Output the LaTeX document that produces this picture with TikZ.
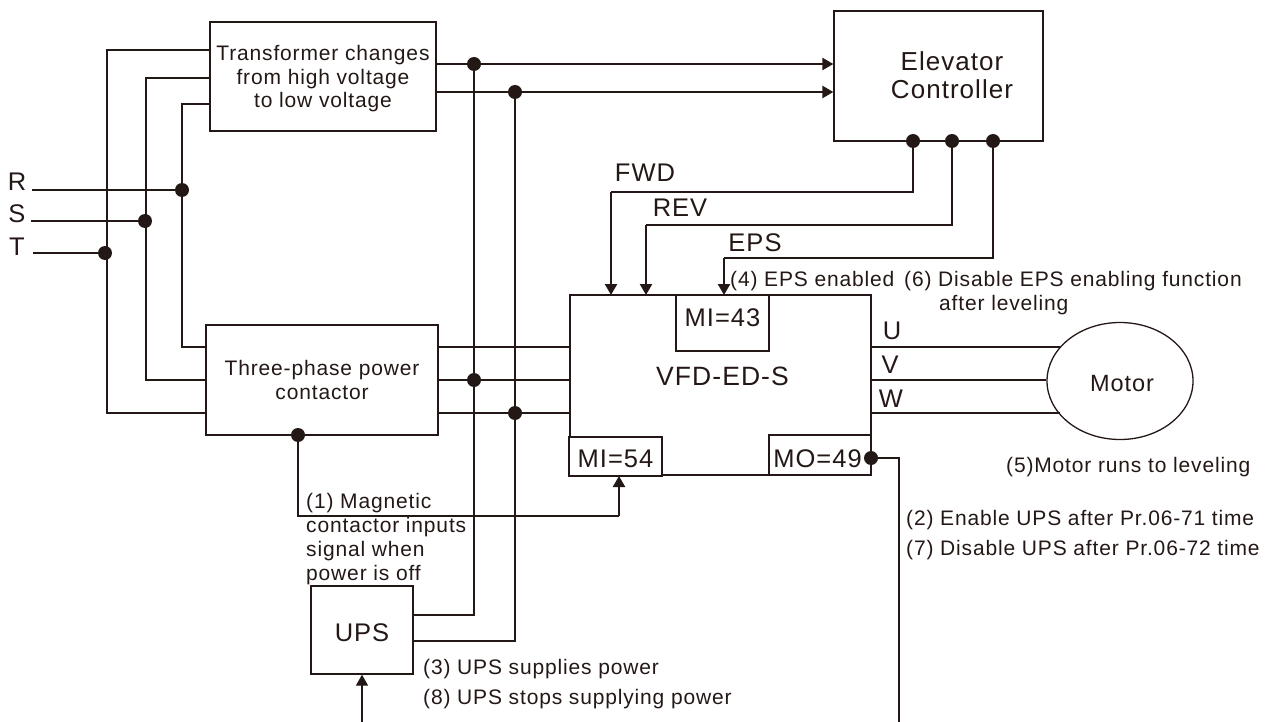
\documentclass[tikz,border=0pt]{standalone}
\usepackage{fontspec}
\setmainfont{Liberation Sans}
\newfontface\lblf{Liberation Sans}[LetterSpace=4]
\definecolor{ink}{HTML}{231815}
\usetikzlibrary{arrows.meta,shapes.geometric}
\tikzset{
  wire/.style={draw=ink,line width=1.3pt},
  thick wire/.style={draw=ink,line width=2.4pt},
  arrowed/.style={-{Triangle[length=11pt,width=12pt]}},
  fbox/.style={draw=ink,line width=1.3pt,rectangle,inner sep=0pt,fill=white,text=ink,align=center},
  jdot/.style={circle,fill=ink,inner sep=0pt,minimum size=14pt},
  big/.style={font=\lblf\fontsize{26}{28}\selectfont,text=ink,inner sep=0pt,align=center},
  mid/.style={font=\lblf\fontsize{25.5}{30}\selectfont,text=ink,inner sep=0pt,align=center},
  small/.style={font=\lblf\fontsize{21}{24}\selectfont,text=ink,inner sep=0pt,align=left},
  smallc/.style={font=\lblf\fontsize{21}{23.5}\selectfont,text=ink,inner sep=0pt,align=center},
  smallw/.style={font=\lblf\fontsize{21}{29.5}\selectfont,text=ink,inner sep=0pt,align=left},
}
\begin{document}
\begin{tikzpicture}[x=1pt,y=-1pt]
\useasboundingbox (0,0) rectangle (1274,722);

% boxes
\node[fbox,smallc,draw=ink,minimum width=226pt,minimum height=109pt] (xf) at (323,76.5) {\rule{0pt}{20pt}Transformer changes\\from high voltage\\to low voltage};
\node[fbox,smallc,draw=ink,minimum width=232pt,minimum height=110pt] (ct) at (322,380) {Three-phase power\\contactor};
\node[fbox,big,draw=ink,minimum width=209pt,minimum height=130pt] (ec) at (938.5,76) {\hspace*{27pt}Elevator\\\hspace*{27pt}Controller\rule[-2pt]{0pt}{0pt}};
\node[fbox,mid,draw=ink,minimum width=301pt,minimum height=180pt] (vfd) at (720.5,385) {\raisebox{18pt}{\fontsize{26.5}{30}\selectfont\hspace*{4pt}VFD-ED-S}};
\node[fbox,mid,draw=ink,minimum width=93pt,minimum height=56pt] (mi43) at (722.5,323) {\raisebox{10pt}{MI=43}};
\node[fbox,mid,draw=ink,minimum width=93pt,minimum height=39pt] (mi54) at (615.5,456.5) {\rule{0pt}{22.5pt}MI=54};
\node[fbox,mid,draw=ink,minimum width=102pt,minimum height=40pt,text width=102pt] (mo49) at (820,455) {\hspace*{-5pt}\rule{0pt}{24.5pt}MO=49};
\node[fbox,mid,draw=ink,minimum width=102pt,minimum height=88pt] (ups) at (362,630) {\rule{0pt}{22.5pt}UPS};
\node[draw=ink,line width=1.3pt,ellipse,inner sep=0pt,minimum width=146pt,minimum height=117pt,text=ink,font=\lblf\fontsize{23.5}{28}\selectfont] (motor) at (1120,381) {\hspace*{4pt}\rule{0pt}{21pt}Motor};

% junction dots
\node[jdot] (dR) at (182,190) {};
\node[jdot] (dS) at (145,221) {};
\node[jdot] (dT) at (105,253) {};
\node[jdot] (d1) at (474,64) {};
\node[jdot] (d2) at (515,92) {};
\node[jdot] (d3) at (474,380) {};
\node[jdot] (d4) at (515,413) {};
\node[jdot] (dc) at (298,435) {};
\node[jdot] (dF) at (913,141) {};
\node[jdot] (dV) at (952,141) {};
\node[jdot] (dE) at (993,141) {};
\node[jdot] (dM) at (871,458) {};

% labels
\node[mid] (lR) at (17,182) {R};
\node[mid] (lS) at (17,214) {S};
\node[mid] (lT) at (17,247) {T};
\node[mid] (lFWD) at (645,173) {FWD};
\node[mid] (lREV) at (680,208) {REV};
\node[mid] (lEPS) at (755,243) {EPS};
\node[mid] (lU) at (892,331) {U};
\node[mid] (lV) at (890,365) {V};
\node[mid] (lW) at (891,399) {W};
\node[small,anchor=west] (n4) at (730,281) {(4) EPS enabled};
\node[small,anchor=west] (n6) at (904,281) {(6) Disable EPS enabling function};
\node[small,anchor=west] (n6b) at (939,305) {after leveling};
\node[small,anchor=west] (n5) at (1006,467) {(5)Motor runs to leveling};
\node[smallw,anchor=west] (n27) at (906,535) {(2) Enable UPS after Pr.06-71 time\\(7) Disable UPS after Pr.06-72 time};
\node[small,anchor=north west] (n1) at (306,493) {(1) Magnetic\\contactor inputs\\signal when\\power is off};
\node[smallw,anchor=west] (n38) at (423,684) {(3) UPS supplies power\\(8) UPS stops supplying power};

% free end coordinates
\coordinate (Rs) at (32,190);
\coordinate (Ss) at (31,221);
\coordinate (Ts) at (33,253);
\coordinate (upsIn) at (362,722);
\coordinate (moEnd) at (899,722);
\coordinate (mU) at (1060,347);
\coordinate (mW) at (1060,413);

% three-phase left wires
\begin{scope}[wire]
\draw (xf.west |- 0,50) -| (107,413) -- (ct.west |- 0,413);
\draw (xf.west |- 0,78) -| (146,380) -- (ct.west |- 0,380);
\draw (xf.west |- 0,104) -| (182,347) -- (ct.west |- 0,347);
\draw (Rs) -- (dR);
\draw (Ss) -- (dS);
\draw (Ts) -- (dT);
% contactor to VFD
\draw (ct.east |- 0,347) -- (vfd.west |- 0,347);
\draw (ct.east |- 0,380) -- (vfd.west |- 0,380);
\draw (ct.east |- 0,413) -- (vfd.west |- 0,413);
% VFD to motor
\draw (vfd.east |- mU) -- (mU);
\draw (vfd.east |- 0,380) -- (motor.west |- 0,380);
\draw (vfd.east |- mW) -- (mW);
% transformer stubs
\draw (xf.east |- 0,64) -- (d1);
\draw (xf.east |- 0,92) -- (d2);
% power rails
\draw (d1) -- (d3);
\draw (d2) -- (d4);
% MO to UPS signal
\draw (dM) -- (899,458) -- (moEnd);
% contactor signal
\draw (dc) -- (298,516) -- (619,516);
% elevator lines
\draw (dF) -- (913,192) -- (611,192);
\draw (dV) -- (952,225) -- (646,225);
\draw (dE) -- (993,258) -- (724,258);
\end{scope}
\begin{scope}[thick wire]
\draw[arrowed] (d1) -- (ec.west |- 0,64);
\draw[arrowed] (d2) -- (ec.west |- 0,92);
\draw (d3) -- (474,615) -- (ups.east |- 0,615);
\draw (d4) -- (515,641) -- (ups.east |- 0,641);
\draw[arrowed] (611,192) -- (611,295);
\draw[arrowed] (646,225) -- (646,295);
\draw[arrowed] (724,258) -- (724,295);
\draw[arrowed] (619,516) -- (619,476);
\end{scope}
\draw[wire,arrowed] (upsIn) -- (ups.south);
\end{tikzpicture}
\end{document}
